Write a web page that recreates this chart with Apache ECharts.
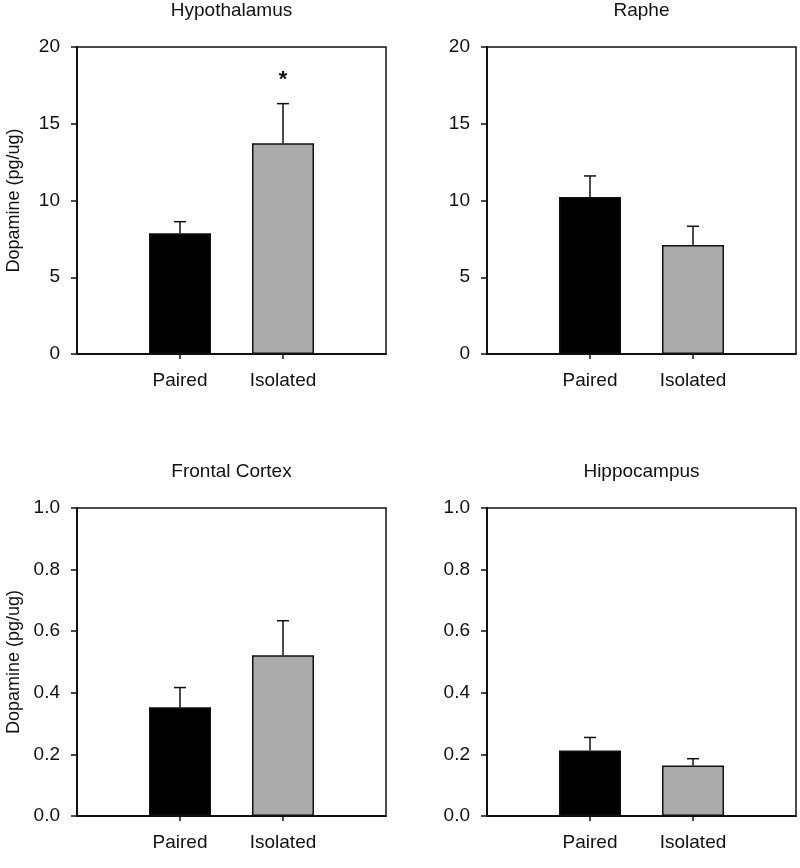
<!DOCTYPE html>
<html>
<head>
<meta charset="utf-8">
<script src="https://cdn.jsdelivr.net/npm/echarts@6/dist/echarts.min.js"></script>
<style>html,body{margin:0;padding:0;background:#fff}#c{width:800px;height:868px}</style>
</head>
<body>
<div id="c"></div>
<script>
// ---- data ----
var categories = ['Paired', 'Isolated'];
var regions = ['Hypothalamus', 'Raphe', 'Frontal Cortex', 'Hippocampus'];
var hypothalamusMean = [7.86, 13.73];
var hypothalamusErr  = [0.76, 2.58];
var rapheMean = [10.23, 7.10];
var rapheErr  = [1.37, 1.22];
var frontalMean = [0.353, 0.522];
var frontalErr  = [0.064, 0.112];
var hippoMean = [0.213, 0.164];
var hippoErr  = [0.042, 0.022];
var significance = [['', '*'], ['', ''], ['', ''], ['', '']];
var yMax = [20, 20, 1.0, 1.0];
var yStep = [5, 5, 0.2, 0.2];
var yTitle = 'Dopamine (pg/ug)';

var means = [hypothalamusMean, rapheMean, frontalMean, hippoMean];
var errs = [hypothalamusErr, rapheErr, frontalErr, hippoErr];

// ---- layout ----
var FONT = 'Liberation Sans, Arial, sans-serif';
var grids = [
  {left: 77, top: 47, width: 309, height: 307},
  {left: 487, top: 47, width: 309, height: 307},
  {left: 77, top: 508, width: 309, height: 308},
  {left: 487, top: 508, width: 309, height: 308}
];
var barColors = ['#000000', '#ababab'];
var axisCats = [''].concat(categories).concat(['']);
function isCat(i) { return i >= 1 && i <= categories.length; }

var option = {
  backgroundColor: '#fff',
  animation: false,
  title: [], grid: [], xAxis: [], yAxis: [], series: []
};

grids.forEach(function (g, k) {
  option.grid.push({left: g.left, top: g.top, width: g.width, height: g.height,
    show: true, borderColor: '#111', borderWidth: 1.5, backgroundColor: 'transparent'});
  option.title.push({text: regions[k], left: g.left + g.width / 2, top: g.top - 46, textAlign: 'center', padding: 0,
    textStyle: {fontFamily: FONT, fontSize: 19, fontWeight: 'normal', color: '#111'}});
  option.xAxis.push({type: 'category', gridIndex: k, data: axisCats, boundaryGap: false,
    axisLine: {lineStyle: {color: '#111', width: 2}},
    axisTick: {interval: function (i) { return isCat(i); }, length: 5, lineStyle: {color: '#111', width: 1.5}},
    axisLabel: {interval: function (i) { return isCat(i); }, margin: 17, fontFamily: FONT, fontSize: 19, color: '#111'},
    splitLine: {show: false}});
  var dec = yStep[k] < 1 ? 1 : 0;
  option.yAxis.push({type: 'value', gridIndex: k, min: 0, max: yMax[k], interval: yStep[k],
    name: (k % 2 === 0) ? yTitle : '', nameLocation: 'middle', nameGap: 54,
    nameTextStyle: {fontFamily: FONT, fontSize: 18, color: '#111'},
    axisLine: {show: true, lineStyle: {color: '#111', width: 2}},
    axisTick: {show: true, length: 6, lineStyle: {color: '#111', width: 1.5}},
    axisLabel: {margin: 17, fontFamily: FONT, fontSize: 19, color: '#111',
      formatter: function (v) { return v.toFixed(dec); }},
    splitLine: {show: false}});

  var barData = [null];
  var errData = [];
  means[k].forEach(function (m, j) {
    barData.push({value: m, itemStyle: {color: barColors[j], borderColor: '#111', borderWidth: 1.5}});
    errData.push([j + 1, m, m + errs[k][j], significance[k][j]]);
  });
  barData.push(null);

  option.series.push({type: 'bar', xAxisIndex: k, yAxisIndex: k, data: barData, barWidth: 62, z: 2});
  option.series.push({type: 'custom', xAxisIndex: k, yAxisIndex: k, data: errData, z: 3,
    renderItem: function (params, api) {
      var x = api.value(0);
      var p0 = api.coord([x, api.value(1)]);
      var p1 = api.coord([x, api.value(2)]);
      var children = [
        {type: 'line', shape: {x1: p0[0], y1: p0[1], x2: p1[0], y2: p1[1]}, style: {stroke: '#111', lineWidth: 1.5}},
        {type: 'line', shape: {x1: p1[0] - 6, y1: p1[1], x2: p1[0] + 6, y2: p1[1]}, style: {stroke: '#111', lineWidth: 1.5}}
      ];
      var mark = errData[params.dataIndex][3];
      if (mark) {
        children.push({type: 'text', x: p1[0], y: p1[1] - 24,
          style: {text: mark, fontFamily: FONT, fontSize: 22, fontWeight: 'bold', fill: '#111', align: 'center', verticalAlign: 'middle'}});
      }
      return {type: 'group', children: children};
    }});
});

var chart = echarts.init(document.getElementById('c'));
chart.setOption(option);
</script>
</body>
</html>
